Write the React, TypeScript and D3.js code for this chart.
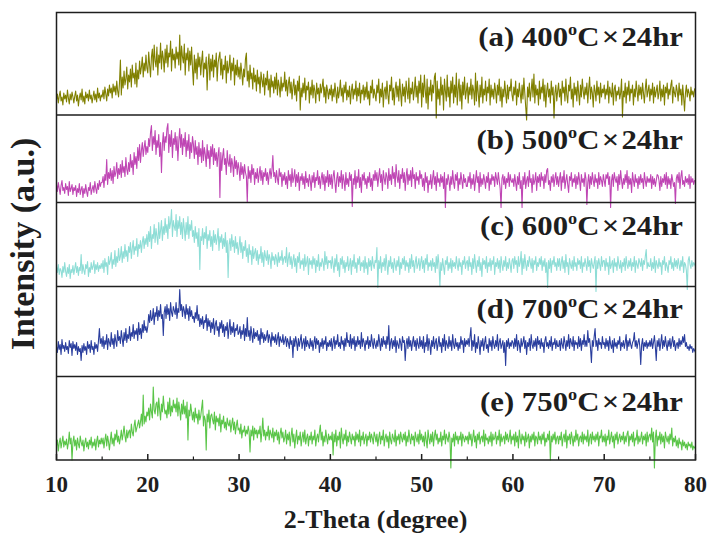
import React from 'react';
import * as d3 from 'd3';

// 2-Theta sampling: 10° to 80°, 0.1° step (701 points per pattern)
const X_START = 10;
const X_END = 80;

const seriesA = [
  15,21,12,19,24,14,18,10,22,16, 20,13,25,17,11,21,15,23,18,12, 19,24,14,20,9,17,22,15,26,13, 19,11,23,17,21,14,25,16,20,12, 18,24,15,21,13,27,17,22,14,20,
  18,25,16,28,21,14,26,19,30,22, 27,17,31,23,29,20,34,24,18,32, 55,20,38,27,44,30,36,48,26,40, 33,46,28,50,37,42,31,52,28,45, 36,54,41,48,58,38,52,44,60,47,
  42,63,50,38,58,66,45,70,54,48, 68,40,60,52,72,46,64,57,43,66, 52,70,48,62,58,74,44,66,55,61, 47,68,56,63,50,80,45,69,58,52, 71,40,62,55,67,44,64,50,68,46,
  30,60,42,56,36,62,48,58,40,54, 64,38,52,46,58,25,50,61,35,56, 44,60,38,55,48,62,34,52,58,63, 40,56,36,50,45,59,32,54,42,48, 60,35,52,44,57,30,50,40,55,38,
  48,36,52,42,30,46,38,56,62,34, 44,28,50,36,42,26,47,33,40,24, 45,31,38,22,43,35,28,41,20,37, 30,44,25,36,18,40,28,34,22,38, 26,42,20,35,29,18,38,24,32,28,
  43,24,35,19,31,38,22,33,16,28, 36,20,30,14,34,24,39,5,27,18, 32,22,37,15,29,25,33,12,28,20, 35,17,30,24,12,32,21,27,14,31, 22,28,36,18,28,12,30,24,16,26,
  20,30,14,26,18,32,22,12,28,17, 24,35,19,27,13,30,22,33,15,25, 18,29,11,24,31,16,26,20,34,14, 27,19,32,12,25,21,30,15,28,18, 33,16,24,10,29,22,35,17,26,20,
  14,30,22,36,12,26,18,32,8,24, 28,16,34,20,11,30,24,38,15,27, 10,26,33,18,29,14,36,22,9,31, 19,28,13,34,24,16,37,12,27,21, 33,15,25,38,18,29,12,34,22,40,
  8,32,18,40,24,12,36,6,28,20, 35,14,30,22,38,42,-3,34,16,26, 10,38,20,30,5,36,24,14,40,18, 28,8,34,22,38,12,30,18,42,10, 26,36,14,30,6,33,20,38,16,24,
  32,12,28,20,36,16,30,24,10,42, 14,34,22,8,30,18,38,12,26,20, 34,14,28,22,36,10,30,18,26,16, 32,24,12,30,20,36,14,28,8,26, 18,34,22,12,30,16,28,24,36,20,
  14,28,20,34,10,26,18,32,22,12, 30,16,37,22,8,-5,28,18,32,14, 24,36,18,41,12,30,20,26,10,34, 16,28,22,36,14,30,8,24,32,18, 26,12,34,20,28,-3,22,30,14,24,
  32,18,26,10,34,22,28,14,36,20, 12,30,24,38,16,26,8,32,20,28, 14,34,22,10,30,18,36,24,16,28, 20,32,12,26,38,16,28,22,8,30, 24,14,34,20,28,12,32,18,26,22,
  30,16,26,20,34,12,28,22,18,32, 10,26,30,14,24,20,28,16,22,36, -2,24,18,32,12,28,20,34,14,26, 22,30,10,26,18,34,24,14,30,20, 28,16,32,22,12,26,36,18,24,30,
  14,26,20,32,12,28,18,24,30,16, 22,34,14,26,18,30,10,28,22,32, 16,26,20,30,35,12,28,22,18,30, 24,14,32,20,26,10,30,18,4,22, 30,18,26,22,14,28,20,24,18,26,
  27
];

const seriesB = [
  18,11,20,14,8,17,22,12,15,9, 19,13,16,7,21,11,14,18,8,15, 12,17,6,14,10,19,8,13,16,5, 14,9,18,11,6,15,12,20,8,13, 17,10,21,14,9,19,13,22,16,20,
  20,26,15,28,22,43,18,30,24,34, 22,32,19,36,26,30,40,24,34,28, 38,25,42,30,36,26,45,33,28,40, 31,48,35,42,28,50,38,46,34,55, 42,58,40,52,60,46,55,62,48,56,
  50,64,56,70,77,52,66,58,72,48, 62,55,68,46,60,30,58,70,52,66, 60,74,79,50,68,56,72,45,64,58, 70,52,66,42,62,74,55,68,48,64, 56,70,46,62,52,68,44,60,50,66,
  58,44,62,48,56,38,60,46,54,40, 62,42,55,48,36,58,44,52,34,56, 46,58,38,54,42,50,36,48,55,5, 50,32,46,54,38,44,28,52,40,36, 48,30,44,38,26,46,34,42,28,40,
  34,22,40,28,36,24,38,30,26,0, 36,24,32,20,38,28,34,18,30,24, 34,20,28,36,22,32,18,30,26,34, 22,30,18,28,34,24,32,47,26,30, 20,32,24,18,34,26,30,16,28,22,
  30,18,26,14,32,22,28,16,34,20, 25,33,16,28,20,30,12,26,22,29, 18,26,14,31,20,24,16,28,22,12, 27,20,30,15,25,22,32,18,26,14, 24,30,18,28,12,26,20,32,16,28,
  18,28,14,26,32,20,10,24,30,16, 26,20,32,14,28,22,12,30,18,24, 16,30,22,28,-4,24,18,32,14,26, 20,33,15,25,10,28,22,30,18,24, 14,26,20,30,16,24,12,28,22,32,
  22,30,16,26,34,20,28,12,32,24, 18,30,26,14,34,22,28,18,36,24, 30,16,38,26,20,32,14,28,24,34, 20,30,12,26,34,18,28,22,32,16, 35,24,28,14,30,22,26,18,32,24,
  28,16,24,12,30,20,26,10,22,18, 28,14,24,32,18,26,12,30,20,24, 16,28,20,26,14,30,-5,24,18,28, 22,12,26,18,32,20,14,28,22,30, 12,24,18,30,22,14,28,20,24,16,
  16,26,20,30,14,24,18,28,12,22, 32,20,26,10,30,16,24,18,28,22, 14,26,20,30,12,24,18,28,22,26, 16,30,24,18,30,22,14,-5,24,28, 18,26,14,24,20,30,16,28,22,20,
  24,16,28,20,12,26,18,30,14,22, -5,26,18,30,14,22,26,16,32,20, 24,10,28,18,22,30,12,26,20,28, 16,30,22,26,14,28,20,32,34,18, 22,12,26,20,28,16,24,30,18,26,
  16,24,30,12,26,20,32,14,22,28, 18,10,26,22,30,16,24,20,28,14, 26,18,30,22,12,28,20,24,16,30, 24,-2,20,28,14,26,18,30,22,16, 28,20,24,14,30,18,26,22,16,28,
  22,16,28,24,30,18,26,-5,22,28, 16,30,24,20,26,12,28,18,32,22, 14,24,18,28,20,32,14,26,18,24, 10,30,22,16,28,20,24,14,26,18, 28,20,24,14,30,22,16,26,20,24,
  20,28,14,26,18,24,16,22,28,27, 22,12,26,16,24,20,28,18,30,14, 26,18,24,14,28,22,16,20,-1,24, 28,20,30,14,26,32,18,22,16,26, 20,24,18,28,14,26,20,24,18,22,
  22
];

const seriesC = [
  20,14,22,12,18,16,9,20,14,24, 15,10,19,13,22,8,17,14,21,12, 18,24,14,20,11,19,16,32,13,22, 16,12,22,18,25,10,19,14,24,17, 20,26,13,22,17,24,15,21,18,23,
  18,26,14,28,20,24,12,30,22,26, 34,18,27,22,36,20,30,24,38,26, 30,40,24,35,28,42,30,36,25,40, 34,44,28,38,46,32,40,36,48,30, 42,38,46,34,44,50,38,48,42,52,
  40,55,45,60,38,52,48,62,44,58, 50,42,64,48,56,66,46,60,52,68, 54,62,48,70,58,64,77,50,66,60, 56,72,50,66,58,70,52,64,48,68, 58,46,64,52,70,48,62,56,66,50,
  56,44,60,48,54,40,58,17,50,46, 58,42,54,48,60,38,52,46,56,40, 50,36,56,44,52,42,48,58,36,50, 44,52,38,48,40,54,34,46,9,42, 48,36,52,40,46,34,50,38,44,32,
  40,50,34,44,28,40,36,46,30,38, 24,42,32,36,22,40,28,34,38,26, 36,22,32,28,40,24,34,20,36,30, 26,36,22,32,28,18,34,26,30,22, 32,28,20,34,24,30,26,36,22,28,
  30,24,39,20,28,34,22,30,18,26, 32,20,28,14,30,24,34,18,26,22, 28,16,32,20,24,30,12,28,22,26, 18,30,22,28,14,26,20,32,16,24, 20,28,24,16,35,22,30,18,26,24,
  26,18,30,22,14,28,20,32,16,24, 10,28,22,30,18,26,14,24,20,30, 16,22,28,12,26,20,32,18,24,14, 28,22,30,16,24,20,26,14,30,18, 24,12,28,20,26,16,30,22,18,26,
  24,39,-1,26,18,30,14,24,20,28, 16,32,22,12,26,20,30,18,24,14, 28,22,16,26,20,30,12,24,18,28, 22,30,16,26,20,24,14,28,18,32, 20,26,14,24,30,18,22,28,16,24,
  30,18,26,14,28,22,32,16,24,20, 26,16,28,20,24,14,30,18,32,22, 0,24,16,28,20,12,26,22,30,16, 24,18,28,14,26,20,24,18,30,22, 16,28,20,24,12,26,22,30,18,24,
  26,16,30,20,24,12,28,18,32,22, 14,26,20,30,16,24,10,28,22,26, 18,30,14,24,20,28,16,26,22,30, 12,24,20,28,18,26,14,30,22,16, 26,20,30,16,24,18,28,22,14,26,
  28,18,30,22,26,14,30,20,24,35, 12,28,18,32,22,16,26,20,30,24, 18,28,14,26,22,30,16,24,20,28, 22,30,16,26,20,28,14,24,-1,26, 18,28,14,26,22,30,20,24,16,28,
  20,28,16,24,30,18,26,14,32,20, 24,12,28,22,18,26,16,30,20,24, 16,28,22,26,18,30,14,24,20,28, 22,16,30,20,26,14,28,22,18,24, 30,-5,26,18,28,22,16,30,20,26,
  26,16,28,20,24,12,30,18,22,26, 14,28,20,24,16,30,22,18,26,14, 24,20,28,16,30,22,18,26,20,28, 16,24,20,30,14,26,22,18,28,24, 20,28,16,26,22,30,37,18,24,20,
  20,28,16,24,18,30,14,26,22,18, 28,20,24,12,26,22,30,16,24,20, 14,26,22,30,18,24,16,28,20,26, 18,28,22,16,26,20,30,14,24,22, 16,-3,26,30,22,18,26,20,24,22,
  20
];

const seriesD = [
  30,24,35,27,32,22,37,28,31,25, 34,27,30,23,36,29,33,21,35,28, 32,26,34,22,30,25,28,16,31,24, 33,26,30,22,35,28,32,24,36,27, 30,22,34,28,32,25,36,48,33,38,
  30,40,28,36,32,42,27,38,34,30, 44,32,38,28,42,35,30,46,36,40, 33,46,38,30,44,36,48,34,42,38, 50,36,44,40,52,38,46,42,48,36, 54,42,48,38,52,44,56,46,50,44,
  50,62,54,66,56,58,68,52,64,60, 70,56,66,60,72,58,62,41,64,70, 58,72,62,68,56,74,64,60,70,66, 62,74,58,68,64,87,66,72,60,70, 66,58,72,62,68,56,70,60,66,58,
  60,54,64,58,71,56,62,50,58,52, 60,48,56,54,62,46,58,50,56,44, 54,48,58,42,52,56,46,50,40,54, 48,56,44,52,40,50,46,54,38,48, 57,42,50,44,54,40,48,46,52,42,
  44,50,38,46,42,52,36,48,40,59, 40,46,36,50,42,34,48,38,44,40, 46,36,42,32,48,38,44,34,42,36, 40,46,34,42,38,30,44,36,40,34, 42,32,38,44,30,40,36,34,42,32,
  36,40,30,38,34,28,40,32,36,19, 38,30,40,34,26,38,30,36,42,28, 34,38,26,40,30,36,32,28,38,30, 36,26,34,40,28,38,32,36,24,34, 30,38,28,36,32,40,26,34,30,36,
  30,38,26,34,40,28,36,32,42,30, 34,28,40,32,36,26,38,30,44,34, 36,30,42,28,38,32,40,26,36,30, 40,32,36,28,44,30,38,34,26,36, 32,40,28,36,30,42,34,28,38,32,
  28,36,30,42,34,26,38,30,40,32, 36,28,40,32,51,26,34,38,28,36, 30,40,24,36,32,28,38,34,26,40, 34,36,16,32,38,28,40,30,36,26, 34,40,30,36,26,38,32,28,40,30,
  36,28,40,24,34,30,42,26,38,32, 22,36,30,40,28,34,38,26,32,40, 30,34,24,38,30,42,26,36,32,28, 40,30,36,26,42,32,28,38,30,34, 26,34,28,40,32,36,24,38,30,36,
  32,38,30,40,49,26,36,30,42,24, 34,28,40,32,22,36,30,38,26,34, 40,28,32,24,38,30,36,26,40,32, 28,36,30,42,26,34,38,28,32,36, 24,34,11,36,30,38,28,34,30,36,
  34,28,38,30,42,26,36,32,24,38, 30,34,40,28,36,22,34,30,38,26, 42,32,28,36,30,38,26,40,32,36, 28,38,30,34,24,36,40,30,34,28, 36,30,40,26,34,32,38,28,36,30,
  30,36,26,38,32,28,40,34,26,36, 30,42,28,38,34,30,40,26,36,32, 34,28,40,30,38,26,36,32,42,30, 36,30,46,34,38,28,14,36,30,40, 48,30,36,26,38,32,34,28,40,32,
  34,28,38,30,36,26,40,32,28,36, 24,38,30,34,28,36,32,40,26,34, 30,36,28,34,42,26,36,30,38,32, 28,34,36,44,30,36,28,34,38,30, 12,32,38,26,34,30,36,28,34,30,
  36,30,38,28,34,41,30,16,36,30, 38,26,34,42,28,36,30,40,32,26, 36,30,38,28,34,40,30,36,26,32, 34,28,38,30,36,32,40,34,42,30, 34,28,30,26,32,28,30,24,28,26,
  24
];

const seriesE = [
  14,20,9,17,22,12,18,24,13,19, 15,21,11,17,28,16,22,0,18,24, 14,20,10,22,16,12,24,18,14,20, 9,17,22,13,18,11,20,15,23,12, 18,14,21,10,19,24,13,20,16,22,
  16,22,12,20,26,14,24,18,10,20, 28,16,22,14,26,20,30,18,24,16, 22,30,20,26,34,24,18,30,22,28, 30,22,36,28,24,34,40,28,32,36, 40,32,38,46,34,65,36,44,38,48,
  44,52,40,56,48,42,73,50,46,56, 58,44,62,50,40,56,48,64,52,46, 50,42,58,46,62,44,54,48,60,52, 56,48,62,44,58,50,40,56,46,60, 46,54,42,58,20,50,44,56,48,40,
  48,38,52,42,46,36,50,40,44,52, 60,34,44,40,10,46,38,50,32,44, 46,40,36,48,30,44,38,42,34,46, 28,40,36,44,32,38,30,42,36,34, 40,28,36,42,30,38,26,34,40,30,
  32,26,36,22,30,28,34,24,30,26, 34,28,8,30,24,34,20,32,26,30, 22,30,26,34,18,28,42,24,30,20, 28,24,34,20,30,26,22,32,18,28, 24,30,20,28,16,26,32,22,28,18,
  22,30,16,26,20,28,14,24,32,18, 26,12,22,30,16,24,20,28,14,22, 28,18,30,16,22,26,14,24,20,28, 16,24,20,30,14,22,26,18,28,35, 20,28,14,24,18,30,22,16,26,20,
  24,20,28,5,26,18,30,14,24,20, 28,12,32,22,16,26,20,30,14,24, 18,28,22,16,26,20,24,14,28,20, 26,18,30,14,24,20,28,16,22,26, 14,24,20,28,18,26,22,16,28,24,
  18,26,14,22,28,16,24,20,30,14, 22,26,18,24,12,28,20,16,26,22, 18,30,14,24,20,26,16,28,22,18, 26,20,28,14,24,18,30,22,16,26, 20,24,14,28,22,18,26,16,30,20,
  26,18,24,14,28,20,12,30,22,16, 26,18,28,14,24,30,20,26,16,22, 18,28,14,24,20,30,16,26,22,18, 28,22,-8,22,18,26,14,28,20,24, 16,24,20,28,14,26,22,18,24,20,
  24,16,28,20,26,14,22,30,18,24, 12,26,20,28,16,22,24,18,30,14, 26,20,22,16,24,18,28,14,26,20, 22,28,16,24,20,30,14,26,18,22, 24,16,28,20,26,18,22,30,16,24,
  20,26,14,28,18,24,12,30,22,16, 26,20,24,14,28,18,22,26,12,24, 18,26,20,28,14,24,22,16,28,20, 24,16,26,20,28,14,22,18,26,20, 29,0,24,18,26,20,28,16,22,24,
  16,24,20,28,14,22,26,18,30,12, 24,20,26,16,28,22,14,24,18,30, 20,26,14,22,24,18,28,16,26,20, 24,18,30,14,22,26,16,28,20,24, 18,26,20,28,14,24,22,30,18,24,
  18,26,14,24,20,30,16,22,28,18, 24,12,26,20,28,16,22,26,18,24, 20,28,16,24,18,26,29,14,24,20, 26,18,28,14,22,20,30,16,24,18, 22,28,16,24,20,26,14,28,18,24,
  26,20,32,18,28,-8,22,30,14,24, 20,28,16,26,18,24,12,28,22,18, 24,16,26,20,32,14,22,18,24,14, 20,12,22,16,18,10,20,14,18,12, 16,10,18,14,16,12,18,10,14,12,
  12
];

const SERIES = [seriesA, seriesB, seriesC, seriesD, seriesE];
const LETTERS = ['(a)', '(b)', '(c)', '(d)', '(e)'];
const TEMPS = ['400', '500', '600', '700', '750'];
const COLORS = ['#808000', '#BF46B4', '#8EDDD6', '#2A3E9E', '#5AC548'];
const X_TICKS = [10, 20, 30, 40, 50, 60, 70, 80];
const X_MINOR = [15, 25, 35, 45, 55, 65, 75];

const W = 707;
const H = 533;
const LEFT = 56.5;
const RIGHT = 695.5;
const BOUNDS = [12.5, 115, 202.5, 286.5, 376.5, 460];
const LABEL_BASE = [45.5, 148.5, 235, 318, 410.5];
const FONT = '"Liberation Serif", "Times New Roman", Times, serif';
const INK = '#1e1e1e';

export default function App() {
  const x = d3.scaleLinear().domain([X_START, X_END]).range([LEFT, RIGHT]);

  const paths = SERIES.map((s, k) => {
    const top = BOUNDS[k];
    const bottom = BOUNDS[k + 1];
    const y = d3.scaleLinear().domain([0, bottom - top]).range([bottom, top]);
    const step = (X_END - X_START) / (s.length - 1);
    const line = d3
      .line<number>()
      .x((_, i) => x(X_START + i * step))
      .y((d) => y(d));
    return line(s) || '';
  });

  return (
    <svg
      width={W}
      height={H}
      viewBox={`0 0 ${W} ${H}`}
      style={{ position: 'absolute', left: 0, top: 0, background: '#fff' }}
    >
      <rect x={0} y={0} width={W} height={H} fill="#fff" />
      {paths.map((p, k) => (
        <path key={k} d={p} fill="none" stroke={COLORS[k]} strokeWidth={1.1} strokeLinejoin="round" />
      ))}
      <rect
        x={LEFT}
        y={BOUNDS[0]}
        width={RIGHT - LEFT}
        height={BOUNDS[5] - BOUNDS[0]}
        fill="none"
        stroke={INK}
        strokeWidth={1.5}
      />
      {BOUNDS.slice(1, 5).map((b, i) => (
        <line key={i} x1={LEFT} x2={RIGHT} y1={b} y2={b} stroke={INK} strokeWidth={1.5} />
      ))}
      {X_TICKS.map((t) => (
        <g key={t}>
          <line x1={x(t)} x2={x(t)} y1={BOUNDS[5]} y2={BOUNDS[5] - 6} stroke={INK} strokeWidth={1.5} />
          <text x={x(t)} y={492} textAnchor="middle" fontFamily={FONT} fontWeight="bold" fontSize={23} fill={INK}>
            {t}
          </text>
        </g>
      ))}
      {X_MINOR.map((t) => (
        <line key={t} x1={x(t)} x2={x(t)} y1={BOUNDS[5]} y2={BOUNDS[5] - 3.5} stroke={INK} strokeWidth={1.2} />
      ))}
      {LETTERS.map((l, k) => (
        <g key={l} transform={`translate(683,${LABEL_BASE[k]}) scale(1.14,1)`}>
          <text textAnchor="end" fontFamily={FONT} fontWeight="bold" fontSize={27} fill={INK}>
            {`${l} ${TEMPS[k]}`}
            <tspan dy={-11} fontSize={16}>o</tspan>
            <tspan dy={11}>C</tspan>
            <tspan dx={2}>×</tspan>
            <tspan dx={2}>24hr</tspan>
          </text>
        </g>
      ))}
      <text x={375.5} y={527.5} textAnchor="middle" fontFamily={FONT} fontWeight="bold" fontSize={26} fill={INK}>
        2-Theta (degree)
      </text>
      <text
        transform="translate(34,244) rotate(-90)"
        textAnchor="middle"
        fontFamily={FONT}
        fontWeight="bold"
        fontSize={34}
        fill={INK}
      >
        Intensity (a.u.)
      </text>
    </svg>
  );
}
